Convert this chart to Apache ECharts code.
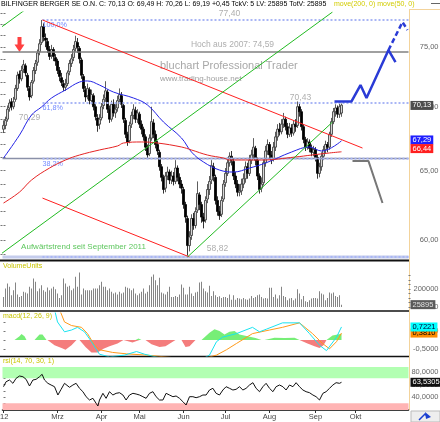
<!DOCTYPE html>
<html>
<head>
<meta charset="utf-8">
<script src="https://cdn.jsdelivr.net/npm/echarts@6/dist/echarts.min.js"></script>
<style>
  html, body { margin: 0; padding: 0; background: #fff; }
  #main { width: 440px; height: 422px; }
</style>
</head>
<body>
<div id="main"></div>
<script>
// Bilfinger Berger, Tageschart 2012 (Preis, Volumen, MACD, RSI)
const FONT = '"Liberation Sans", Arial, sans-serif';
const L = Math.log;
const comma = (v, d) => v.toFixed(d).replace('.', ',');

// Kurse je Handelstag: [open, close, low, high]
const candles = [
  [68.2,68.5,67.9,68.9],[68.5,68.9,68.2,69.2],[69.0,69.8,68.8,70.1],[69.9,70.3,69.6,70.6],[70.4,70.0,69.7,70.7],
  [70.0,70.4,69.8,70.8],[70.6,71.5,70.4,71.8],[71.5,72.6,71.3,72.9],[72.7,72.3,71.9,73.0],[72.3,73.0,72.1,73.4],
  [73.1,73.5,72.8,73.9],[73.4,72.8,72.5,73.6],[72.6,71.6,71.3,72.8],[71.5,70.8,70.5,71.7],[70.9,72.0,70.7,72.2],
  [72.1,73.0,71.9,73.3],[73.0,73.6,72.7,73.9],[73.7,74.5,73.4,74.8],[74.6,75.3,74.3,75.7],[75.4,76.8,75.2,77.4],
  [76.8,75.9,75.5,77.1],[75.8,75.6,75.0,76.2],[75.5,74.8,74.5,75.8],[74.8,74.2,73.9,75.1],[74.3,74.8,74.0,75.2],
  [74.8,74.2,73.8,75.0],[74.1,73.8,73.4,74.4],[73.8,73.0,72.7,74.0],[73.0,72.5,72.1,73.3],[72.4,72.0,71.7,72.8],
  [71.9,71.6,71.3,72.2],[71.6,71.8,71.3,72.3],[71.9,72.8,71.7,73.0],[72.9,73.6,72.6,73.9],[73.6,74.0,73.3,74.4],
  [74.1,74.8,73.8,75.2],[74.9,75.5,74.6,76.0],[75.4,75.0,74.5,75.8],[74.9,74.0,73.6,75.1],[73.9,72.6,72.3,74.1],
  [72.5,71.5,71.2,72.7],[71.4,70.8,70.4,71.7],[70.9,71.5,70.6,71.9],[71.4,70.5,70.2,71.6],[70.5,71.0,70.2,71.4],
  [70.9,70.0,69.7,71.1],[70.0,69.2,68.9,70.2],[69.1,68.5,68.0,69.4],[68.6,69.0,68.2,69.4],[69.1,70.0,68.9,70.3],
  [70.1,70.6,69.8,71.0],[70.7,71.3,70.4,72.1],[71.2,69.8,69.5,71.4],[69.8,69.0,68.7,70.1],[69.0,70.2,68.8,70.5],
  [70.2,69.5,69.2,70.6],[69.5,69.8,69.1,70.2],[69.9,70.5,69.6,70.9],[70.6,71.0,70.3,71.5],[70.9,70.2,69.9,71.2],
  [70.1,69.0,68.7,70.3],[68.9,67.8,67.5,69.1],[67.8,67.2,66.9,68.0],[67.3,68.5,67.1,68.8],[68.6,69.3,68.3,69.6],
  [69.3,69.8,69.0,70.2],[69.7,69.0,68.7,70.0],[69.0,69.5,68.7,69.8],[69.4,68.6,68.3,69.6],[68.6,68.2,67.8,68.9],
  [68.2,67.6,67.3,68.4],[67.6,66.8,66.5,67.8],[66.8,66.2,65.9,67.0],[66.3,67.5,66.1,67.8],[67.5,68.8,67.3,70.0],
  [68.7,67.8,67.5,69.0],[67.8,67.0,66.7,68.1],[67.0,66.5,66.2,67.3],[66.4,65.3,65.0,66.6],[65.3,64.5,64.2,65.5],
  [64.5,63.6,63.3,64.7],[63.7,64.6,63.4,64.9],[64.6,64.9,64.3,65.3],[64.9,64.3,64.0,65.1],[64.3,64.6,64.0,65.0],
  [64.6,64.2,63.9,64.9],[64.2,65.2,64.0,65.8],[65.2,64.5,64.2,65.4],[64.5,64.0,63.7,64.8],[64.0,63.7,63.3,64.3],
  [63.6,62.5,62.2,63.8],[62.5,61.6,61.2,62.7],[61.5,59.6,58.82,61.7],[59.6,60.2,59.2,60.6],[60.3,61.5,60.0,61.8],
  [61.5,61.0,60.7,61.9],[61.0,62.0,60.8,62.3],[62.1,63.3,61.9,64.2],[63.2,62.5,62.1,63.4],[62.5,61.6,61.2,62.7],
  [61.6,61.3,60.8,61.9],[61.4,62.8,61.2,63.1],[62.9,63.6,62.6,64.0],[63.6,64.2,63.2,64.6],[64.3,65.4,64.0,65.8],
  [65.3,64.6,64.2,65.6],[64.5,62.8,62.5,64.7],[62.8,62.0,61.7,63.1],[62.0,61.7,61.4,62.4],[61.8,62.8,61.6,63.1],
  [62.9,64.0,62.7,64.3],[64.1,64.8,63.8,65.2],[64.8,65.6,64.6,66.0],[65.6,66.1,65.3,66.4],[66.1,65.8,65.4,66.5],
  [65.7,64.6,64.3,65.9],[64.6,64.0,63.7,64.9],[64.0,63.4,63.1,64.3],[63.4,63.5,63.1,64.0],[63.5,64.0,63.2,64.4],
  [64.0,64.4,63.7,64.8],[64.4,65.3,64.1,65.7],[65.3,64.8,64.4,65.6],[64.8,65.8,64.6,66.2],[65.8,66.2,65.5,66.6],
  [66.2,66.8,65.9,67.5],[66.7,65.8,65.4,66.9],[65.8,64.6,64.3,66.0],[64.6,63.6,63.3,64.8],[63.7,64.0,63.4,64.5],
  [64.1,65.6,63.9,65.9],[65.6,66.5,65.3,66.9],[66.5,67.0,66.2,67.4],[67.0,66.2,65.9,67.2],[66.2,65.8,65.5,66.5],
  [65.9,66.8,65.7,67.2],[66.8,67.6,66.5,68.0],[67.6,68.2,67.3,68.6],[68.2,68.0,67.7,68.7],[68.0,68.6,67.8,69.0],
  [68.6,69.0,68.3,69.5],[69.0,68.4,68.1,69.2],[68.4,67.8,67.5,68.7],[67.8,68.3,67.6,68.7],[68.3,67.9,67.6,68.6],
  [67.9,68.6,67.7,68.9],[68.6,68.4,68.0,69.0],[68.5,70.0,68.3,70.43],[70.0,69.6,69.2,70.3],[69.6,68.4,68.1,69.8],
  [68.4,67.4,67.1,68.6],[67.4,66.8,66.5,67.6],[66.8,67.2,66.6,67.5],[67.2,66.7,66.4,67.4],[66.7,66.4,66.1,67.0],
  [66.4,66.6,66.1,66.9],[66.6,66.0,65.7,66.8],[66.0,64.8,64.4,66.2],[64.8,65.3,64.5,65.6],[65.3,66.1,65.0,66.4],
  [66.1,66.6,65.8,66.9],[66.6,67.0,66.3,67.3],[67.0,66.8,66.4,67.2],[66.8,67.8,66.6,68.0],[67.8,68.8,67.6,69.1],
  [68.8,69.6,68.6,69.9],[69.6,69.9,69.2,70.2],[69.9,69.4,69.1,70.1],[69.4,70.0,69.1,70.3],[69.49,70.13,69.19,70.26]
];

// Volumen in Tausend Stück
const volK = [
  111,204,259,222,130,185,270,137,111,122, 167,159,148,222,204,315,278,174,204,241,
  185,167,215,185,204,222,196,148,100,130, 315,259,222,233,185,204,333,222,381,137,
  204,185,185,185,185,204,204,204,241,278, 222,222,185,204,167,148,159,137,167,148,
  159,222,211,204,185,204,148,130,148,167, 204,148,167,241,333,359,296,241,322,159,
  148,137,167,222,111,111,122,111,137,248, 211,137,137,222,148,122,159,167,270,278,
  204,174,159,233,122,174,130,111,118,100, 111,111,100,137,81,130,81,100,93,85,
  100,85,81,93,122,100,111,130,137,111, 93,100,93,211,211,111,137,93,130,222,
  122,111,74,93,100,74,93,196,148,85, 122,63,56,74,93,100,100,93,174,148,
  137,74,100,159,148,159,122,111,130,25.895
];

// gleitende Durchschnitte: [Tag, Kurs]
const ma50 = [[0,65.96],[8,67.74],[14,69.33],[19,69.98],[24,70.71],[31,71.37],[38,72.03],[42,72.12],[48,71.78],
  [55,71.20],[65,70.71],[72,70.14],[80,68.77],[89,67.51],[94,66.42],[100,65.66],[108,65.05],[115,64.90],
  [123,65.20],[131,65.58],[144,66.42],[153,66.81],[159,66.50],[169,67.29]];
const ma200 = [[0,62.61],[8,63.41],[14,64.30],[23,65.20],[31,65.81],[38,66.19],[48,66.58],[57,66.89],[60,67.12],
  [69,67.20],[77,67.12],[89,66.81],[94,66.58],[102,66.19],[110,65.96],[113,65.81],[129,65.81],[146,66.04],
  [154,66.19],[163,66.35],[169,66.44]];

// MACD-Linie, Signal, Histogramm: [Tag, Wert]
const macdLine = [[25.5,1.7],[27,1.0],[30.5,0.45],[34,0.55],[37,0.7],[40.5,0.45],[44,-0.1],[46.5,-0.55],[48,-0.8],
  [53,-0.95],[60.5,-0.85],[66.5,-0.65],[70.5,-0.8],[78,-1.0],[93,-1.2],[100.5,-1.0],[103,-0.85],[106.5,-0.1],
  [109.5,0.15],[116.5,0.35],[124.5,0.7],[128,0.45],[131.5,0.6],[139.5,0.95],[148,0.95],[153,0.35],[158,-0.3],
  [161.5,-0.6],[166.5,0.15],[169,0.7221]];
const macdSignal = [[28,1.7],[30.5,1.0],[34,0.8],[39,0.7],[42,0.35],[45.5,-0.3],[48,-0.55],[54.5,-0.7],[61.5,-0.78],
  [71.5,-0.85],[85.5,-1.0],[98,-1.1],[106.5,-0.85],[111.5,-0.55],[116.5,-0.2],[124.5,0.35],[133,0.55],[139.5,0.7],
  [148,0.95],[154.5,0.35],[159.5,-0.2],[163,-0.5],[166.5,-0.1],[169,0.381]];
const histUp = [[0,0],[5.5,0],[8,0.2],[9,0.33],[10.5,0.2],[11.5,0],[15.5,0],[18,0.3],[19.5,0.3],[21.5,0],
  [66,0],[67.5,0.08],[69,0],[99,0],[103,0.4],[105.5,0.6],[108,0.5],[110.5,0.3],[113,0.45],[115.5,0.5],[118,0.3],
  [122,0.2],[126,0.1],[129,0],[130.5,0],[135.5,0.12],[140.5,0.1],[145.5,0.12],[148,0],[161.5,0],[164.5,0.25],[169,0.34]];
const histDown = [[0,0],[22,0],[25.5,-0.3],[29,-0.45],[31,-0.55],[34,-0.3],[36.5,0],[38,0],[41,-0.4],[44,-0.7],
  [47,-0.7],[50,-0.5],[53,-0.35],[57,-0.2],[60,0],[61,0],[64.5,-0.15],[68,0],[71,0],[74,-0.25],[78,-0.4],[81,-0.35],
  [84,-0.15],[86,0],[89,0],[91,-0.4],[93,-0.35],[96,0],[148,0],[152,-0.2],[155.5,-0.35],[158,-0.45],[160,-0.3],[161.5,0]];

// RSI(14): [Tag, Wert]
const rsi = [[0,56.5],[1.3,64.5],[3,67.2],[4.7,61.9],[6.3,69.9],[8,73.6],[9.7,72.5],[11.3,68.3],[13,57.6],[14.7,67.2],
  [16.3,68.3],[18,72.5],[19.3,76.3],[20.5,67.2],[22.2,61.9],[23.8,59.2],[25.5,56.5],[27.2,43.2],[28.8,52.3],[30.5,61.9],
  [33,55.5],[34.7,59.2],[36.3,61.9],[38,53.9],[39.7,48.5],[41.3,40.5],[43,35.2],[44.7,37.9],[46.3,29.9],[47.2,25.6],
  [48,35.2],[49.7,45.9],[51.3,37.9],[53,48.5],[54.7,43.2],[56.3,45.9],[58,46.9],[59.7,43.2],[61.3,35.2],[63,43.2],
  [64.7,45.9],[66.3,44.8],[68,43.2],[69.7,40.5],[71.3,37.9],[73,45.9],[74.7,48.5],[76.3,40.5],[78,35.2],[79.7,35.2],
  [81.3,45.9],[83,43.2],[84.7,40.5],[86.3,41.6],[88,37.9],[89.7,32.5],[91.3,27.2],[93,40.5],[94.7,40.5],[96.3,38.9],
  [98,40.5],[99.7,43.2],[101.3,43.2],[103,51.2],[104.7,53.9],[106.3,45.9],[108,43.2],[109.7,51.2],[111.3,56.5],[113,53.9],
  [114.7,51.2],[116.3,52.3],[118,56.5],[119.7,51.2],[121.3,53.9],[123,59.2],[124.7,62.9],[126.3,53.9],[128,48.5],[129.7,56.5],
  [131.3,61.9],[133,53.9],[134.7,48.5],[136.3,56.5],[138,59.2],[139.7,56.5],[141.3,51.2],[143,59.2],[144.7,56.5],[146.3,62.9],
  [148,56.5],[149.7,51.2],[151.3,48.5],[153,46.9],[154.7,43.2],[156.3,40.5],[158,35.2],[159.7,45.9],[161.3,48.5],[163,53.9],
  [164.7,59.2],[166.3,62.9],[168,61.9],[169,63.5305]];

// Fibonacci zwischen Hoch und Tief, weitere Marken
const fibHigh = 77.40, fibLow = 58.82;
const fibLevels = [1, 0.618, 0.382, 0];
const high2007 = 74.59;

// gezeichnete Trendlinien und Projektionen: [Tag, Kurs]
const redTop = [[19.5,77.40],[179.5,66.73]];
const redLow = [[19.5,62.97],[93,58.82]];
const greenLong = [[-2,58.95],[164.5,78.12]];
const greenUpper = [[-2,76.64],[13,78.61]];
const greenShort = [[92,58.82],[164.5,68.77]];
const blueSolid = [[165.5,70.43],[174,70.43],[178.5,71.78],[181.5,70.71],[192.5,74.75],[196,73.72]];
const blueDash = [[192.5,74.75],[199.5,77.22],[202,76.51]];
const grayPath = [[174.5,65.73],[182.5,65.73],[189.5,62.61]];

// Beschriftungen im Chart: [Text, Tag, Kurs]
const levelNotes = [['77,40',113,77.94],['Hoch aus 2007: 74,59',114.5,75.19],['70,43',148.5,70.71],
  ['58,82',107,59.36],['70,29',13,69.09]];
const fibNotes = [['100,0%',19.5,76.95],['61,8%',19.5,69.90],['38,2%',19.5,65.51]];
const trendNote = ['Aufwärtstrend seit September 2011',40,59.50];
const arrowAt = [8,75.23];

const priceLabels = [60, 65, 70, 75];
const priceTicks = [59,60,61,62,63,64,65,66,67,68,69,70,71,72,73,74,75,76,77,78];

// Handelstage (Xetra 2012)
const holidays = ['2012-04-06','2012-04-09','2012-05-01'];
const dates = [];
for (let d = new Date(Date.UTC(2012, 0, 24)); dates.length < 203; d.setUTCDate(d.getUTCDate() + 1)) {
  const s = d.toISOString().slice(0, 10);
  const wd = d.getUTCDay();
  if (wd !== 0 && wd !== 6 && holidays.indexOf(s) < 0) dates.push(s);
}
const monthNames = ['Jan','Feb','Mrz','Apr','Mai','Jun','Jul','Aug','Sep','Okt'];
const monthLabel = { 0: "'12" };
dates.forEach((s, i) => {
  const m = +s.slice(5, 7);
  if (i > 0 && s.slice(5, 7) !== dates[i - 1].slice(5, 7) && m > 2 && m <= 10) {
    monthLabel[i] = monthNames[m - 1];
  }
});
const showMonth = idx => monthLabel[idx] !== undefined;

const N = dates.length;
const last = a => a[a.length - 1];

function path(pts, style, extra) {
  return Object.assign({
    type: 'line', xAxisIndex: 1, yAxisIndex: 0, symbol: 'none', silent: true,
    data: pts.map(p => [p[0], L(p[1])]), lineStyle: style
  }, extra || {});
}
function tags(list) {
  return {
    silent: true, symbol: 'none',
    lineStyle: { color: 'rgba(0,0,0,0)', width: 0 },
    label: { position: 'end', distance: 2, fontSize: 7.5, fontFamily: FONT, padding: [1, 2, 0, 2], lineHeight: 8 },
    data: list.map(t => ({ yAxis: t[0], label: { formatter: t[1], backgroundColor: t[2], color: t[3] } }))
  };
}
function notes(list, color, size, align) {
  return {
    type: 'scatter', xAxisIndex: 1, yAxisIndex: 0, symbolSize: 1, silent: true,
    itemStyle: { color: 'rgba(0,0,0,0)' },
    data: list.map(n => ({ value: [n[1], L(n[2])], label: { show: true, position: 'inside', formatter: n[0],
      color: color, fontSize: size, fontFamily: FONT, align: align, verticalAlign: 'middle' } }))
  };
}

const hidCat = g => ({ type: 'category', gridIndex: g, data: dates, boundaryGap: true, show: false });
const hidVal = g => ({ type: 'value', gridIndex: g, min: -0.5, max: N - 0.5, show: false });
const axisText = { fontSize: 7.5, color: '#666', fontFamily: FONT, align: 'right', margin: 30 };
const smallTicks = vals => ({ show: true, customValues: vals, length: 2, lineStyle: { color: '#777' } });

const myChart = echarts.init(document.getElementById('main'));
const option = {
  animation: false,
  backgroundColor: '#fff',
  textStyle: { fontFamily: FONT },
  grid: [
    { left: 2.5, right: 31.5, top: 12, height: 247, outerBoundsMode: 'none' },
    { left: 2.5, right: 31.5, top: 268, height: 39, outerBoundsMode: 'none' },
    { left: 2.5, right: 31.5, top: 313, height: 43, outerBoundsMode: 'none' },
    { left: 2.5, right: 31.5, top: 367, height: 43, outerBoundsMode: 'none' }
  ],
  xAxis: [
    hidCat(0), hidVal(0), hidCat(1), hidVal(2),
    { type: 'category', gridIndex: 3, data: dates, boundaryGap: true, position: 'bottom',
      axisLine: { show: true, lineStyle: { color: '#000', width: 1.5 } },
      axisTick: { show: true, interval: showMonth, alignWithLabel: true, length: 3, lineStyle: { color: '#333' } },
      axisLabel: { interval: showMonth, formatter: (v, i) => monthLabel[i] || '', fontSize: 7.5, color: '#444',
        fontFamily: FONT, margin: 3, hideOverlap: false } },
    hidVal(3)
  ],
  yAxis: [
    { type: 'value', gridIndex: 0, position: 'right', min: L(58.68), max: L(78.12), splitLine: { show: false },
      axisLine: { show: false }, axisTick: smallTicks(priceTicks.map(L)),
      axisLabel: Object.assign({ customValues: priceLabels.map(L), formatter: v => comma(Math.exp(v), 2) }, axisText) },
    { type: 'value', gridIndex: 0, position: 'left', min: L(58.68), max: L(78.12), splitLine: { show: false },
      axisLine: { show: false }, axisLabel: { show: false }, axisTick: smallTicks(priceTicks.map(L)) },
    { type: 'value', gridIndex: 1, position: 'right', min: 0, max: 430000, splitLine: { show: false },
      axisLine: { show: false }, axisTick: smallTicks([0, 50000, 100000, 150000, 200000, 250000, 300000, 350000]),
      axisLabel: Object.assign({ customValues: [0, 200000], formatter: v => String(v) }, axisText) },
    { type: 'value', gridIndex: 2, position: 'right', min: -0.9, max: 1.5, splitLine: { show: false },
      axisLine: { show: false }, axisTick: smallTicks([-0.5, 0, 0.5, 1]),
      axisLabel: Object.assign({ customValues: [-0.5, 0.5], formatter: v => comma(v, 4) }, axisText) },
    { type: 'value', gridIndex: 3, position: 'right', min: 19.2, max: 88, splitLine: { show: false },
      axisLine: { show: false }, axisTick: smallTicks([20, 30, 40, 50, 60, 70, 80]),
      axisLabel: Object.assign({ customValues: [40, 60, 80], formatter: v => comma(v, 4) }, axisText) }
  ],
  series: [
    // waagerechte Marken
    path([[-0.5, high2007], [N - 0.5, high2007]], { color: '#808080', width: 1.5 }),
    path([[-0.5, fibLow + 0.382 * (fibHigh - fibLow)], [N - 0.5, fibLow + 0.382 * (fibHigh - fibLow)]], { color: '#8a90a8', width: 1.5 }),
    path([[-0.5, fibLow], [N - 0.5, fibLow]], { color: '#c4ccec', width: 3 }),
  ].concat(fibLevels.map(f => path([[19.5, fibLow + f * (fibHigh - fibLow)], [N - 0.5, fibLow + f * (fibHigh - fibLow)]],
    { color: '#a9b6f5', width: 2, type: [2, 2] }))).concat([
    {
      type: 'candlestick', xAxisIndex: 0, yAxisIndex: 0, silent: true,
      data: candles.map(r => r.map(L)), barWidth: 1.6,
      itemStyle: { color: '#d6d6d6', color0: '#000', borderColor: '#333', borderColor0: '#000', borderWidth: 0.8 },
      markLine: tags([[L(last(candles)[1]), comma(last(candles)[1], 2), '#4d4d4d', '#fff']])
    },
    path(ma50, { color: '#2424e6', width: 1 }, { smooth: 0.4,
      markLine: tags([[L(last(ma50)[1]), comma(last(ma50)[1], 2), '#1f1fff', '#fff']]) }),
    path(ma200, { color: '#e62424', width: 1 }, { smooth: 0.4,
      markLine: tags([[L(last(ma200)[1]), comma(last(ma200)[1], 2), '#ff1f1f', '#fff']]) }),
    path(redTop, { color: '#ff2020', width: 1 }),
    path(redLow, { color: '#ff2020', width: 1 }),
    path(greenLong, { color: '#22bb22', width: 1 }),
    path(greenUpper, { color: '#22bb22', width: 1 }),
    path(greenShort, { color: '#22bb22', width: 1 }),
    path(blueSolid, { color: '#2a3bd6', width: 2.5 }),
    path(blueDash, { color: '#2a3bd6', width: 2.5, type: [5, 3] }),
    path(grayPath, { color: '#777', width: 2 }),
    notes(levelNotes, '#9a9a9a', 8.5, 'center'),
    notes(fibNotes, '#4f6cff', 7.2, 'left'),
    notes([trendNote], '#33b833', 8, 'center'),
    {
      type: 'scatter', xAxisIndex: 1, yAxisIndex: 0, silent: true,
      symbol: 'path://M3,0 L7,0 L7,7 L10,7 L5,14 L0,7 L3,7 Z', symbolSize: [10, 15],
      itemStyle: { color: '#ff1010' }, data: [[arrowAt[0], L(arrowAt[1])]]
    },
    // Volumen
    {
      type: 'bar', xAxisIndex: 2, yAxisIndex: 2, silent: true, barWidth: 1,
      data: volK.map(v => v * 1000), itemStyle: { color: '#858585' },
      markLine: tags([[last(volK) * 1000, String(Math.round(last(volK) * 1000)), '#5a5a5a', '#e0e0e0']])
    },
    // MACD
    { type: 'line', xAxisIndex: 3, yAxisIndex: 3, symbol: 'none', silent: true, data: histUp,
      lineStyle: { width: 0 }, areaStyle: { color: '#77ee77', opacity: 1 } },
    { type: 'line', xAxisIndex: 3, yAxisIndex: 3, symbol: 'none', silent: true, data: histDown,
      lineStyle: { width: 0 }, areaStyle: { color: '#f47c7c', opacity: 1 } },
    { type: 'line', xAxisIndex: 3, yAxisIndex: 3, symbol: 'none', silent: true, data: macdSignal,
      lineStyle: { color: '#ff9a1a', width: 1 },
      markLine: tags([[last(macdSignal)[1], comma(last(macdSignal)[1], 4), '#ff8c00', '#000']]) },
    { type: 'line', xAxisIndex: 3, yAxisIndex: 3, symbol: 'none', silent: true, data: macdLine,
      lineStyle: { color: '#19e3f0', width: 1 },
      markLine: tags([[last(macdLine)[1], comma(last(macdLine)[1], 4), '#00ffff', '#003']]) },
    // RSI
    { type: 'line', xAxisIndex: 5, yAxisIndex: 4, symbol: 'none', silent: true, data: rsi,
      lineStyle: { color: '#111', width: 1 },
      markArea: { silent: true, data: [
        [{ yAxis: 70, itemStyle: { color: '#b2ffb2' } }, { yAxis: 88 }],
        [{ yAxis: 19.2, itemStyle: { color: '#ffb4b4' } }, { yAxis: 30 }]
      ] },
      markLine: tags([[last(rsi)[1], comma(last(rsi)[1], 4), '#111', '#fff']]) }
  ]),
  graphic: [
    { type: 'text', left: 1, top: 1, style: { text: 'BILFINGER BERGER SE O.N. C: 70,13 O: 69,49 H: 70,26 L: 69,19 +0,45 TckV: 5 LV: 25895 TotV: 25895',
      font: '7px "Liberation Sans"', fill: '#000' } },
    { type: 'text', left: 334, top: 1, style: { text: 'move(200, 0) move(50, 0)', font: '7px "Liberation Sans"', fill: '#d2cc00' } },
    { type: 'line', shape: { x1: 431, y1: 3.5, x2: 440, y2: 3.5 }, style: { stroke: '#666', lineWidth: 1 } },
    { type: 'text', left: 160, top: 60, style: { text: 'bluchart Professional Trader', font: '11px "Liberation Sans"', fill: '#a8a8a8' } },
    { type: 'text', left: 160, top: 75, style: { text: 'www.trading-house.net', font: '8px "Liberation Sans"', fill: '#a0a0a0' } },
    { type: 'text', left: 3, top: 263, style: { text: 'VolumeUnits', font: '7px "Liberation Sans"', fill: '#c8c400' } },
    { type: 'text', left: 3, top: 313, style: { text: 'macd(12, 26, 9)', font: '7px "Liberation Sans"', fill: '#c8c400' } },
    { type: 'text', left: 3, top: 358, style: { text: 'rsi(14, 70, 30, 1)', font: '7px "Liberation Sans"', fill: '#c8c400' } },
    { type: 'line', shape: { x1: 0, y1: 260.5, x2: 409, y2: 260.5 }, style: { stroke: '#111', lineWidth: 2 } },
    { type: 'line', shape: { x1: 0, y1: 311, x2: 409, y2: 311 }, style: { stroke: '#111', lineWidth: 1.5 } },
    { type: 'line', shape: { x1: 0, y1: 356.5, x2: 409, y2: 356.5 }, style: { stroke: '#111', lineWidth: 1.5 } },
    { type: 'line', shape: { x1: 409.5, y1: 9, x2: 409.5, y2: 410 }, style: { stroke: '#f3d39b', lineWidth: 1 } },
    { type: 'line', shape: { x1: 409.5, y1: 9.5, x2: 440, y2: 9.5 }, style: { stroke: '#f3d39b', lineWidth: 1 } },
    { type: 'rect', shape: { x: 411, y: 411, width: 29, height: 11 }, style: { fill: '#eeeeee', stroke: '#bbb', lineWidth: 1 } },
    { type: 'polyline', shape: { points: [[419, 420], [425, 414], [428, 417]] }, style: { stroke: '#1b3fd1', lineWidth: 1.5, fill: null } },
    { type: 'polygon', shape: { points: [[425, 412], [431, 417], [426, 419]] }, style: { fill: '#1b3fd1' } }
  ]
};
myChart.setOption(option);
</script>
</body>
</html>
